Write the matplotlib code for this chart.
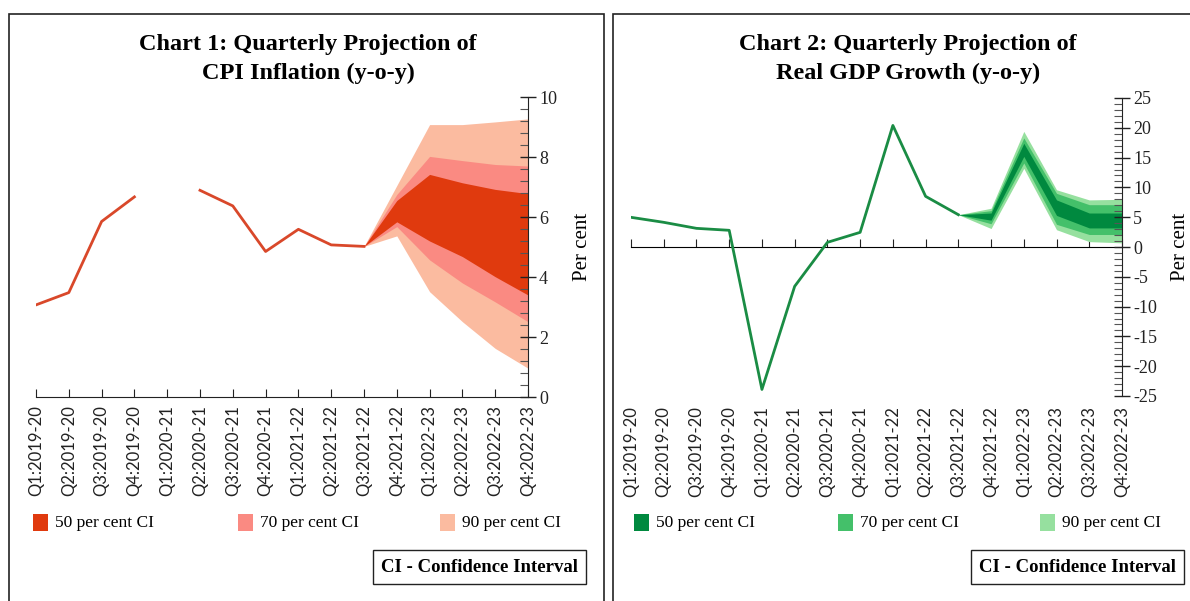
import numpy as np
import matplotlib
matplotlib.use("Agg")
import matplotlib.pyplot as plt
from matplotlib.patches import Rectangle

plt.rcParams['font.family'] = ['Liberation Serif', 'DejaVu Serif']
plt.rcParams['axes.unicode_minus'] = False

quarters = ["Q1:2019-20", "Q2:2019-20", "Q3:2019-20", "Q4:2019-20",
            "Q1:2020-21", "Q2:2020-21", "Q3:2020-21", "Q4:2020-21",
            "Q1:2021-22", "Q2:2021-22", "Q3:2021-22", "Q4:2021-22",
            "Q1:2022-23", "Q2:2022-23", "Q3:2022-23", "Q4:2022-23"]

# CPI inflation, actuals (Q1:2020-21 not available)
cpi_actual = [3.07, 3.48, 5.85, 6.67, np.nan, 6.89, 6.37, 4.85, 5.59, 5.07, 5.02]
# fan bands from Q3:2021-22 onwards
cpi_90_lo = [5.02, 5.37, 3.51, 2.51, 1.62, 0.96]
cpi_90_hi = [5.02, 7.05, 9.08, 9.08, 9.17, 9.27]
cpi_70_lo = [5.02, 5.68, 4.57, 3.80, 3.17, 2.51]
cpi_70_hi = [5.02, 6.75, 8.02, 7.88, 7.75, 7.70]
cpi_50_lo = [5.02, 5.84, 5.20, 4.68, 4.01, 3.40]
cpi_50_hi = [5.02, 6.55, 7.42, 7.14, 6.92, 6.78]

# real GDP growth, actuals
gdp_actual = [4.98, 4.14, 3.13, 2.8, -23.9, -6.6, 0.78, 2.46, 20.4, 8.5, 5.42]
gdp_90_lo = [5.42, 3.1, 13.2, 2.9, 0.9, 0.7]
gdp_90_hi = [5.42, 6.5, 19.4, 9.6, 7.9, 8.0]
gdp_70_lo = [5.42, 3.9, 14.1, 3.8, 2.1, 2.1]
gdp_70_hi = [5.42, 6.1, 18.3, 9.0, 7.1, 7.1]
gdp_50_lo = [5.42, 4.5, 15.2, 5.3, 3.2, 3.2]
gdp_50_hi = [5.42, 5.7, 17.4, 7.9, 5.7, 5.7]

ci_labels = ["50 per cent CI", "70 per cent CI", "90 per cent CI"]
cpi_colors = ['#E03A0E', '#FA8A82', '#FBBBA0']
gdp_colors = ['#00893F', '#44C06A', '#96E09F']

W, H = 1190, 601
fig = plt.figure(figsize=(W / 100, H / 100), dpi=100)

# panel frames
fig.add_artist(Rectangle((9 / W, -0.05), 595 / W, 1 - 14 / H + 0.05,
                         transform=fig.transFigure, fill=False, ec='#222222', lw=1.2))
fig.add_artist(Rectangle((613 / W, -0.05), 0.6, 1 - 14 / H + 0.05,
                         transform=fig.transFigure, fill=False, ec='#222222', lw=1.2))

x = np.arange(len(quarters))
xa = x[:len(cpi_actual)]
xf = x[len(cpi_actual) - 1:]


def style_axis(ax, major, minor, ylim, label_x):
    for s in ['left', 'top']:
        ax.spines[s].set_visible(False)
    ax.spines['right'].set_color('#222222')
    ax.yaxis.tick_right()
    ax.yaxis.set_label_position('right')
    ax.set_ylim(*ylim)
    ax.set_yticks(major)
    ax.set_yticks(minor, minor=True)
    ax.tick_params(axis='y', which='major', direction='inout', length=12, width=1,
                   labelsize=13, pad=2, colors='#222222')
    ax.tick_params(axis='y', which='minor', direction='in', length=6, width=0.8,
                   colors='#555555')
    ax.set_ylabel('Per cent', fontsize=15)
    ax.yaxis.set_label_coords(label_x, 0.5)
    ax.set_xlim(0, len(quarters) - 1)
    ax.set_xticks(x)
    ax.set_xticklabels(quarters, rotation=90, fontsize=12, family='Lato')


# ---------- Chart 1 ----------
ax1 = fig.add_axes([36 / W, 1 - 397 / H, 492 / W, 300 / H])
ax1.fill_between(xf, cpi_90_lo, cpi_90_hi, color=cpi_colors[2], lw=0)
ax1.fill_between(xf, cpi_70_lo, cpi_70_hi, color=cpi_colors[1], lw=0)
ax1.fill_between(xf, cpi_50_lo, cpi_50_hi, color=cpi_colors[0], lw=0)
ax1.plot(xa, cpi_actual, color='#D9482A', lw=2)
style_axis(ax1, np.arange(0, 11, 2), np.arange(0, 10.01, 0.4), (0, 10), 1.092)
ax1.spines['bottom'].set_color('#222222')
ax1.tick_params(axis='x', direction='in', length=6, pad=6, colors='#222222')

fig.text(308 / W, 1 - 59 / H, "Chart 1: Quarterly Projection of\nCPI Inflation (y-o-y)",
         ha='center', va='center', fontsize=17.5, fontweight='bold', linespacing=1.45)

# ---------- Chart 2 ----------
ax2 = fig.add_axes([631 / W, 1 - 396 / H, 491 / W, 298 / H])
ax2.fill_between(xf, gdp_90_lo, gdp_90_hi, color=gdp_colors[2], lw=0)
ax2.fill_between(xf, gdp_70_lo, gdp_70_hi, color=gdp_colors[1], lw=0)
ax2.fill_between(xf, gdp_50_lo, gdp_50_hi, color=gdp_colors[0], lw=0)
ax2.plot(xa, gdp_actual, color='#1A8C44', lw=2)
style_axis(ax2, np.arange(-25, 26, 5), np.arange(-25, 25.01, 1), (-25, 25), 1.100)
ax2.spines['bottom'].set_visible(False)
ax2.tick_params(axis='x', length=0, pad=7, colors='#222222')
zero = ax2.secondary_xaxis(0.5)
zero.set_xticks(x)
zero.set_xticklabels([])
zero.tick_params(direction='out', length=6, colors='#222222')
zero.spines['bottom'].set_color('#222222')

fig.text(908 / W, 1 - 59 / H, "Chart 2: Quarterly Projection of\nReal GDP Growth (y-o-y)",
         ha='center', va='center', fontsize=17.5, fontweight='bold', linespacing=1.45)

# ---------- legends ----------
for starts, cols in [([33, 238, 440], cpi_colors), ([634, 838, 1040], gdp_colors)]:
    for xs, c, lab in zip(starts, cols, ci_labels):
        fig.add_artist(Rectangle((xs / W, 1 - 531 / H), 15 / W, 17 / H,
                                 transform=fig.transFigure, color=c, lw=0))
        fig.text((xs + 22) / W, 1 - 523 / H, lab, ha='left', va='center', fontsize=12.5)

for xr in [578, 1176]:
    fig.text(xr / W, 1 - 567 / H, "CI - Confidence Interval", ha='right', va='center',
             fontsize=13.5, fontweight='bold',
             bbox=dict(boxstyle='square,pad=0.45', fc='white', ec='#222222', lw=1))

fig.savefig("out.png", dpi=100)
